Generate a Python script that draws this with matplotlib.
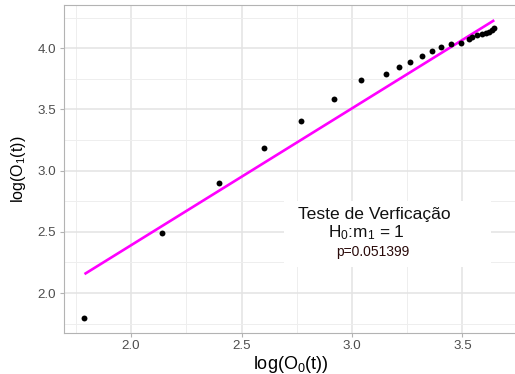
import matplotlib
matplotlib.use("Agg")
import matplotlib.pyplot as plt
from matplotlib.patches import Rectangle
import numpy as np

# ---- data ----
log_O0 = [1.789, 2.141, 2.400, 2.602, 2.771, 2.920, 3.041, 3.156, 3.212, 3.262,
          3.315, 3.360, 3.405, 3.450, 3.493, 3.531, 3.545, 3.568, 3.590, 3.608,
          3.622, 3.635, 3.644]
log_O1 = [1.798, 2.487, 2.900, 3.184, 3.404, 3.586, 3.739, 3.793, 3.845, 3.888,
          3.935, 3.976, 4.013, 4.035, 4.046, 4.073, 4.092, 4.109, 4.117, 4.125,
          4.133, 4.149, 4.162]
fit_intercept = 0.155
fit_slope = 1.118
x_ticks = [2.0, 2.5, 3.0, 3.5]
y_ticks = [2.0, 2.5, 3.0, 3.5, 4.0]
ann_title = "Teste de Verficação"
ann_h0 = r"$\mathregular{H_0}$:$\mathregular{m_1}$ = 1"
ann_p = "p=0.051399"

plt.rcParams['font.family'] = ['Liberation Sans', 'DejaVu Sans']
plt.rcParams['mathtext.fontset'] = 'custom'
plt.rcParams['mathtext.rm'] = 'Liberation Sans'
plt.rcParams['mathtext.it'] = 'Liberation Sans'

fig = plt.figure(figsize=(5.15, 3.74), dpi=100)
L, B, T, R = 64, 332.7, 5.3, 517.7
ax = fig.add_axes([L / 515, (374 - B) / 374, (R - L) / 515, (B - T) / 374])

x = np.array(log_O0)
y = np.array(log_O1)
xl = np.array([x.min(), x.max()])
yl = fit_intercept + fit_slope * xl

xr = x.max() - x.min()
ax.set_xlim(x.min() - 0.05 * xr, x.max() + 0.05 * xr)
ymin = min(y.min(), yl.min()); ymax = max(y.max(), yl.max())
yr = ymax - ymin
ax.set_ylim(ymin - 0.05 * yr, ymax + 0.05 * yr)

ax.set_xticks(x_ticks)
ax.set_yticks(y_ticks)
ax.set_xticks([1.75, 2.25, 2.75, 3.25, 3.75], minor=True)
ax.set_yticks([1.75, 2.25, 2.75, 3.25, 3.75, 4.25], minor=True)
ax.grid(True, which='major', color='#e3e3e3', linewidth=1.1, zorder=0)
ax.grid(True, which='minor', color='#eeeeee', linewidth=0.7, zorder=0)
ax.set_axisbelow(True)
for s in ax.spines.values():
    s.set_color('#b3b3b3')
    s.set_linewidth(0.8)
ax.tick_params(which='major', length=3, width=0.8, color='#b3b3b3',
               labelcolor='#4d4d4d', labelsize=9.6, pad=2.5)
ax.tick_params(which='minor', length=0)

ax.add_patch(Rectangle((2.692, 2.215), 3.631 - 2.692, 2.753 - 2.215,
                       facecolor='white', edgecolor='none', zorder=1))

ax.plot(xl, yl, color='#ff00ff', linewidth=1.9, zorder=2, solid_capstyle='butt')
ax.scatter(x, y, s=18, color='black', zorder=3, linewidths=0)

ax.text(3.101, 2.640, ann_title, ha='center', va='center', fontsize=12.6, color='#111111', zorder=4)
ax.text(3.065, 2.493, ann_h0, ha='center', va='center', fontsize=12.4, color='#111111', zorder=4)
ax.text(3.092, 2.337, ann_p, ha='center', va='center', fontsize=10, color='#2a0a0a', zorder=4)

ax.set_xlabel(r"log(O$\mathregular{_0}$(t))", fontsize=13, labelpad=1)
ax.set_ylabel(r"log(O$\mathregular{_1}$(t))", fontsize=11.5, labelpad=7)

fig.savefig("out.png", dpi=100)
